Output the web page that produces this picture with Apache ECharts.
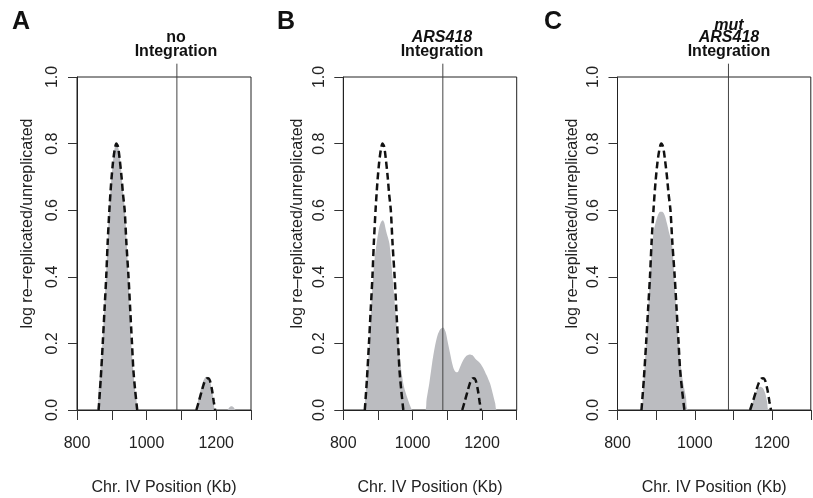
<!DOCTYPE html>
<html>
<head>
<meta charset="utf-8">
<script src="https://cdn.jsdelivr.net/npm/echarts@6/dist/echarts.min.js"></script>
<style>
html,body{margin:0;padding:0;background:#fff;}
#chart{width:813px;height:498px;}
</style>
</head>
<body>
<div id="chart"></div>
<script>
// ---- data (Chr. IV position in Kb, log re-replicated/unreplicated) ----
const posA  = [800, 857, 862, 868, 873, 878, 883, 888, 892, 897, 901, 906, 910, 914, 918, 922, 927, 931, 935, 938, 943, 948, 952, 956, 961, 966, 971, 977, 1140, 1148, 1155, 1162, 1168, 1174, 1180, 1186, 1192, 1198, 1232, 1238, 1244, 1250, 1256, 1300];
const grayA = [0, 0, 0.06, 0.13, 0.2, 0.3, 0.4, 0.5, 0.6, 0.67, 0.72, 0.77, 0.795, 0.8, 0.79, 0.77, 0.72, 0.67, 0.63, 0.6, 0.5, 0.4, 0.3, 0.2, 0.13, 0.07, 0.03, 0, 0, 0.03, 0.06, 0.085, 0.097, 0.1, 0.095, 0.07, 0.035, 0, 0, 0.008, 0.011, 0.008, 0, 0];

const posB  = [800, 858, 863, 867, 871, 875, 880, 886, 891, 896, 903, 909, 914, 918, 924, 933, 942, 950, 959, 967, 975, 985, 993, 1000, 1036, 1040, 1048, 1056, 1064, 1072, 1080, 1088, 1095, 1102, 1108, 1114, 1120, 1126, 1131, 1137, 1146, 1155, 1164, 1172, 1180, 1187, 1195, 1204, 1213, 1223, 1232, 1238, 1243, 1300];
const grayB = [0, 0, 0.04, 0.08, 0.14, 0.2, 0.3, 0.4, 0.46, 0.5, 0.545, 0.565, 0.57, 0.563, 0.535, 0.5, 0.4, 0.3, 0.2, 0.12, 0.07, 0.035, 0.012, 0, 0, 0.03, 0.08, 0.14, 0.19, 0.225, 0.243, 0.248, 0.235, 0.2, 0.17, 0.14, 0.12, 0.113, 0.115, 0.13, 0.15, 0.163, 0.167, 0.165, 0.155, 0.148, 0.14, 0.125, 0.105, 0.08, 0.045, 0.02, 0, 0];

const posC  = [800, 861, 866, 870, 874, 879, 884, 890, 896, 903, 910, 916, 922, 928, 934, 941, 947, 952, 958, 964, 970, 977, 984, 1144, 1150, 1157, 1164, 1170, 1176, 1182, 1187, 1192, 1300];
const grayC = [0, 0, 0.07, 0.13, 0.2, 0.3, 0.4, 0.5, 0.55, 0.58, 0.595, 0.595, 0.585, 0.56, 0.53, 0.5, 0.4, 0.3, 0.2, 0.13, 0.08, 0.04, 0, 0, 0.025, 0.05, 0.066, 0.07, 0.066, 0.05, 0.025, 0, 0];

// dashed profile (no integration reference), null = gap
const refPos = [862, 868, 874, 879, 884, 888, 893, 898, 903, 908, 913, 918, 923, 928, 932, 937, 942, 948, 953, 958, 962, 967, 973, 1060, 1143, 1150, 1158, 1165, 1172, 1177, 1182, 1188, 1193, 1197];
const refVal = [0, 0.09, 0.2, 0.3, 0.4, 0.5, 0.6, 0.68, 0.74, 0.78, 0.8, 0.79, 0.75, 0.7, 0.65, 0.6, 0.5, 0.4, 0.3, 0.2, 0.12, 0.06, 0, null, 0, 0.025, 0.055, 0.08, 0.094, 0.095, 0.088, 0.06, 0.025, 0];

const integrationKb = 1087;
const integrationLine = [0, 1.04];
const xTicks = [800, 1000, 1200];
const panelLetters = ['A', 'B', 'C'];
const panelTitles = [
  [{t: 'no', it: false}, {t: 'Integration', it: false}],
  [{t: 'ARS418', it: true}, {t: 'Integration', it: false}],
  [{t: 'mut', it: true}, {t: 'ARS418', it: true}, {t: 'Integration', it: false}]
];
const yName = 'log re\u2013replicated/unreplicated';
const xName = 'Chr. IV Position (Kb)';

// ---- layout ----
const SANS = '"Liberation Sans", Arial, Helvetica, sans-serif';
const grids = [
  {left: 77, top: 77, width: 174, height: 333},
  {left: 343.3, top: 77, width: 173.4, height: 333},
  {left: 617.5, top: 77, width: 193.3, height: 333}
];
const yNameGaps = [41, 37.5, 37];
const letterX = [12, 277, 544];
const titleX = [176, 442, 729];
const titleBaselines = {2: [43, 57], 3: [31.5, 43.5, 57]};

function zip(xs, ys) { return xs.map((x, i) => [x, ys[i] === null ? '-' : ys[i]]); }
const grays = [zip(posA, grayA), zip(posB, grayB), zip(posC, grayC)];
const ref = zip(refPos, refVal);

const xAxis = [], yAxis = [], series = [], graphic = [];
grids.forEach((g, i) => {
  xAxis.push({
    type: 'value', gridIndex: i, min: 800, max: 1300, interval: 100, z: 10,
    axisLine: {show: true, lineStyle: {color: '#222', width: 1}},
    axisTick: {show: true, length: 10, lineStyle: {color: '#333', width: 1}},
    axisLabel: {
      margin: 26, color: '#222', fontSize: 16, fontFamily: SANS,
      formatter: v => xTicks.indexOf(v) >= 0 ? String(v) : ''
    },
    splitLine: {show: false},
    name: xName, nameLocation: 'middle', nameGap: 70,
    nameTextStyle: {color: '#222', fontSize: 16, fontFamily: SANS}
  });
  yAxis.push({
    type: 'value', gridIndex: i, min: 0, max: 1, interval: 0.2, z: 10,
    axisLine: {show: true, lineStyle: {color: '#222', width: 1}},
    axisTick: {show: true, length: 9, lineStyle: {color: '#333', width: 1}},
    axisLabel: {
      rotate: 90, margin: 16, color: '#222', fontSize: 16, fontFamily: SANS,
      formatter: v => v.toFixed(1)
    },
    splitLine: {show: false},
    name: yName, nameLocation: 'middle', nameGap: yNameGaps[i], nameRotate: 90,
    nameTextStyle: {color: '#222', fontSize: 16, fontFamily: SANS, padding: [0, 0, 0, 40]}
  });
  series.push({
    type: 'line', xAxisIndex: i, yAxisIndex: i, data: grays[i],
    symbol: 'none', smooth: 0.25, silent: true, z: 2,
    lineStyle: {width: 0, color: '#bbbcc0'},
    areaStyle: {color: '#bbbcc0', opacity: 1}
  });
  series.push({
    type: 'line', xAxisIndex: i, yAxisIndex: i, clip: false,
    data: integrationLine.map(v => [integrationKb, v]),
    symbol: 'none', silent: true, z: 3,
    lineStyle: {width: 1, color: '#444'}
  });
  series.push({
    type: 'line', xAxisIndex: i, yAxisIndex: i, data: ref,
    symbol: 'none', smooth: 0.25, silent: true, z: 4, connectNulls: false,
    lineStyle: {width: 2.5, color: '#111', type: [7, 4], cap: 'butt'}
  });
  graphic.push({
    type: 'text', x: letterX[i], y: 22,
    style: {text: panelLetters[i], font: 'bold 25px ' + SANS, fill: '#111', textVerticalAlign: 'middle'}
  });
  const lines = panelTitles[i];
  const bl = titleBaselines[lines.length];
  lines.forEach((ln, k) => {
    graphic.push({
      type: 'text', x: titleX[i], y: bl[k] - 5.5,
      style: {
        text: ln.t, font: (ln.it ? 'italic ' : '') + 'bold 16px ' + SANS,
        fill: '#111', textAlign: 'center', textVerticalAlign: 'middle'
      }
    });
  });
});

const chart = echarts.init(document.getElementById('chart'), null, {renderer: 'canvas'});
chart.setOption({
  animation: false,
  backgroundColor: '#fff',
  grid: grids.map(g => Object.assign({
    show: true, borderColor: '#222', borderWidth: 1, backgroundColor: 'transparent',
    containLabel: false, outerBoundsMode: 'none'
  }, g)),
  xAxis, yAxis, series, graphic
});
</script>
</body>
</html>
